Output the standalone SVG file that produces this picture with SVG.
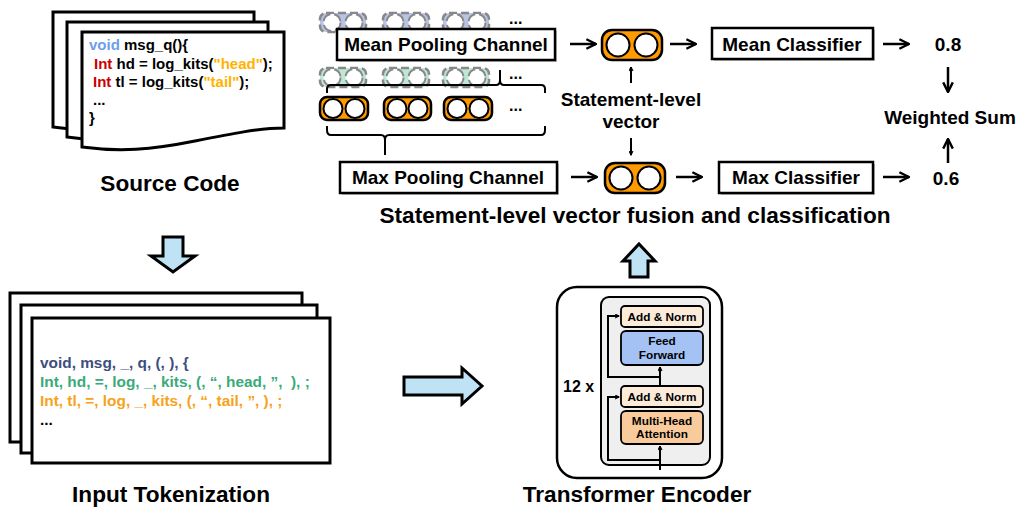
<svg xmlns="http://www.w3.org/2000/svg" width="1018" height="508" viewBox="0 0 1018 508">
<defs>
<style>
text{font-family:"Liberation Sans",Arial,sans-serif;font-weight:bold;fill:#000}
.cap{font-size:22.6px}
.code{font-size:15px}
.tok{font-size:15.4px;white-space:pre}
.lbl{font-size:19px}
.page{fill:#fff;stroke:#000;stroke-width:3}
.box{fill:#fff;stroke:#000;stroke-width:2.5}
.shadow{fill:#999;opacity:0.6}
.blk{fill:#BFE3F5;stroke:#000;stroke-width:3;stroke-linejoin:miter}
.ln{stroke:#000;stroke-width:2.5;fill:none}
.thin{stroke:#000;stroke-width:2;fill:none}
.vec{fill:#FF9A00;stroke:#000;stroke-width:2.5}
.cir{fill:#fff;stroke:#000;stroke-width:2}
.fv1{fill:#B9C3E6;stroke:#888;stroke-width:2.5;stroke-dasharray:8 4}
.fv2{fill:#BFE8D4;stroke:#888;stroke-width:2.5;stroke-dasharray:8 4}
.fc{fill:#fff;stroke:#888;stroke-width:2;stroke-dasharray:10 4}
.tb{stroke:#000;stroke-width:1.8}
.tt{font-size:11.8px}
</style>
<marker id="ah" viewBox="0 0 10 10" refX="9" refY="5" markerWidth="5" markerHeight="5" orient="auto" markerUnits="userSpaceOnUse">
<path d="M1,1 L9,5 L1,9" fill="none" stroke="#000" stroke-width="2.2"/>
</marker>
<marker id="ahs" viewBox="0 0 10 10" refX="9" refY="5" markerWidth="12" markerHeight="12" orient="auto" markerUnits="userSpaceOnUse">
<path d="M1,1 L9,5 L1,9" fill="none" stroke="#000" stroke-width="2"/>
</marker>
</defs>
<rect width="1018" height="508" fill="#fff"/>

<g id="source-code">
<path class="page" d="M53,12 H254 V110 C230,112 200,118 165,125 C120,134 90,132 53,127 Z"/>
<path class="page" d="M67,22 H268 V120 C244,122 214,128 179,135 C134,144 104,142 67,137 Z"/>
<path class="page" d="M82,32 H284 V128 C260,128 230,134 195,141 C150,150 120,152 82,147 Z"/>
<text class="code" x="89" y="50"><tspan fill="#6D9EEB">void</tspan> msg_q(){</text>
<text class="code" x="94" y="69"><tspan fill="#CC0000">Int</tspan> hd = log_kits(<tspan fill="#FFB300">"head"</tspan>);</text>
<text class="code" x="93" y="87"><tspan fill="#CC0000">Int</tspan> tl = log_kits(<tspan fill="#FFB300">"tail"</tspan>);</text>
<text class="code" x="93" y="105">...</text>
<text class="code" x="89" y="123">}</text>
<text class="cap" x="170" y="191" text-anchor="middle">Source Code</text>
</g>

<g id="input-tokenization">
<rect class="page" x="10" y="293" width="292" height="149"/>
<rect class="page" x="21" y="305" width="296" height="148"/>
<rect class="page" x="32" y="318" width="298" height="145"/>
<text class="tok" x="40" y="368" style="fill:#3D4E7E">void, msg, _, q, (, ), {</text>
<text class="tok" x="40" y="387" style="fill:#3BAA7A">Int, hd, =, log, _, kits, (, “, head, ”,  ), ;</text>
<text class="tok" x="40" y="406" style="fill:#F7A21B">Int, tl, =, log, _, kits, (, “, tail, ”, ), ;</text>
<text class="tok" x="40" y="425">...</text>
<text class="cap" x="171" y="502" text-anchor="middle">Input Tokenization</text>
</g>

<g id="block-arrows">
<path class="blk" d="M163,237 H183 V256 H195 L173,272 L151,256 H163 Z"/>
<path class="blk" d="M404,377 H462 V368 L482,386 L462,404 V395 H404 Z"/>
<path class="blk" d="M630,277 V261 H623 L639,244 L655,261 H648 V277 Z"/>
</g>

<g id="transformer-encoder">
<rect x="557" y="287" width="165" height="191" rx="20" fill="#fff" stroke="#000" stroke-width="2.5"/>
<rect x="601" y="297" width="109" height="168" rx="8" fill="#EFEFEF" stroke="#000" stroke-width="2"/>
<rect x="621" y="306" width="82" height="21" rx="4" fill="#FCEBD9" class="tb"/>
<text class="tt" x="662" y="320.5" text-anchor="middle">Add &amp; Norm</text>
<rect x="621" y="331" width="82" height="34" rx="5" fill="#A4C2F4" class="tb"/>
<text class="tt" x="662" y="345" text-anchor="middle">Feed</text>
<text class="tt" x="662" y="359" text-anchor="middle">Forward</text>
<rect x="621" y="386" width="82" height="21" rx="4" fill="#FCEBD9" class="tb"/>
<text class="tt" x="662" y="400.5" text-anchor="middle">Add &amp; Norm</text>
<rect x="621" y="411" width="82" height="33" rx="5" fill="#F9CB9C" class="tb"/>
<text class="tt" x="662" y="424.5" text-anchor="middle">Multi-Head</text>
<text class="tt" x="662" y="438" text-anchor="middle">Attention</text>
<text x="563" y="392" font-size="16">12 x</text>
<text class="cap" x="637" y="502" text-anchor="middle">Transformer Encoder</text>
</g>

<g id="top-vectors">
<g id="faded-row1">
<rect class="fv1" x="320" y="13" width="46" height="19" rx="6"/>
<circle class="fc" cx="332" cy="22.5" r="8.5"/><circle class="fc" cx="354" cy="22.5" r="8.5"/>
<rect class="fv1" x="383" y="13" width="46" height="19" rx="6"/>
<circle class="fc" cx="395" cy="22.5" r="8.5"/><circle class="fc" cx="417" cy="22.5" r="8.5"/>
<rect class="fv1" x="443" y="13" width="46" height="19" rx="6"/>
<circle class="fc" cx="455" cy="22.5" r="8.5"/><circle class="fc" cx="477" cy="22.5" r="8.5"/>
<text x="509" y="24" font-size="16">...</text>
</g>
<g id="faded-row2">
<rect class="fv2" x="320" y="68" width="46" height="19" rx="6"/>
<circle class="fc" cx="332" cy="77.5" r="8.5"/><circle class="fc" cx="354" cy="77.5" r="8.5"/>
<rect class="fv2" x="383" y="68" width="46" height="19" rx="6"/>
<circle class="fc" cx="395" cy="77.5" r="8.5"/><circle class="fc" cx="417" cy="77.5" r="8.5"/>
<rect class="fv2" x="443" y="68" width="46" height="19" rx="6"/>
<circle class="fc" cx="455" cy="77.5" r="8.5"/><circle class="fc" cx="477" cy="77.5" r="8.5"/>
<text x="509" y="79" font-size="16">...</text>
</g>
<g id="orange-row">
<rect class="vec" x="320" y="97" width="48" height="23" rx="7"/>
<circle class="cir" cx="333" cy="108.5" r="9.5"/><circle class="cir" cx="355" cy="108.5" r="9.5"/>
<rect class="vec" x="384" y="97" width="47" height="23" rx="7"/>
<circle class="cir" cx="397" cy="108.5" r="9.5"/><circle class="cir" cx="418" cy="108.5" r="9.5"/>
<rect class="vec" x="444" y="97" width="48" height="23" rx="7"/>
<circle class="cir" cx="457" cy="108.5" r="9.5"/><circle class="cir" cx="479" cy="108.5" r="9.5"/>
<text x="509" y="111" font-size="16">...</text>
</g>
<path class="thin" d="M327,93 V89 Q327,85 331,85 H496 Q500,85 500,80 V70 M500,80 Q500,85 504,85 H541 Q545,85 545,89 V93"/>
<path class="thin" d="M327,126 V130 Q327,135 331,135 H381 Q385,135 385,140 V155 M385,140 Q385,135 389,135 H541 Q545,135 545,130 V126"/>
</g>

<g id="mean-pooling-channel">
<rect class="shadow" x="339" y="31" width="218" height="31"/>
<rect class="box" x="337" y="29" width="218" height="31"/>
<text class="lbl" x="446" y="51" text-anchor="middle">Mean Pooling Channel</text>
</g>
<g id="max-pooling-channel">
<rect class="shadow" x="342" y="164" width="217" height="31"/>
<rect class="box" x="340" y="162" width="217" height="31"/>
<text class="lbl" x="448" y="184" text-anchor="middle">Max Pooling Channel</text>
</g>

<g id="mean-vector">
<rect class="vec" x="602" y="30" width="60" height="30" rx="10"/>
<circle class="cir" cx="618" cy="45" r="11.5"/><circle class="cir" cx="646" cy="45" r="11.5"/>
</g>
<g id="max-vector">
<rect class="vec" x="605" y="163" width="60" height="30" rx="10"/>
<circle class="cir" cx="621" cy="178" r="11.5"/><circle class="cir" cx="649" cy="178" r="11.5"/>
</g>

<g id="statement-level-vector">
<text class="lbl" x="631" y="106" text-anchor="middle">Statement-level</text>
<text class="lbl" x="631" y="128" text-anchor="middle">vector</text>
</g>

<g id="mean-classifier">
<rect class="shadow" x="714" y="30" width="161" height="31"/>
<rect class="box" x="712" y="28" width="161" height="31"/>
<text class="lbl" x="792" y="50.5" text-anchor="middle">Mean Classifier</text>
</g>
<g id="max-classifier">
<rect class="shadow" x="721" y="164" width="154" height="31"/>
<rect class="box" x="719" y="162" width="154" height="31"/>
<text class="lbl" x="796" y="184" text-anchor="middle">Max Classifier</text>
</g>

<g id="score-mean"><text class="lbl" x="948" y="51" text-anchor="middle">0.8</text></g>
<g id="score-max"><text class="lbl" x="946" y="185" text-anchor="middle">0.6</text></g>
<g id="weighted-sum"><text class="lbl" x="950" y="124" text-anchor="middle">Weighted Sum</text></g>

<text class="cap" x="635" y="223" text-anchor="middle">Statement-level vector fusion and classification</text>

<g id="connectors">
<line class="ln" x1="570" y1="44" x2="596" y2="44" marker-end="url(#ahs)"/>
<line class="ln" x1="670" y1="44" x2="696" y2="44" marker-end="url(#ahs)"/>
<line class="ln" x1="883" y1="44" x2="909" y2="44" marker-end="url(#ahs)"/>
<line class="ln" x1="571" y1="177" x2="597" y2="177" marker-end="url(#ahs)"/>
<line class="ln" x1="676" y1="177" x2="702" y2="177" marker-end="url(#ahs)"/>
<line class="ln" x1="883" y1="177" x2="909" y2="177" marker-end="url(#ahs)"/>
<line class="ln" x1="948" y1="67" x2="948" y2="92" marker-end="url(#ahs)"/>
<line class="ln" x1="948" y1="163" x2="948" y2="139" marker-end="url(#ahs)"/>
<line class="thin" x1="631" y1="83" x2="631" y2="67" marker-end="url(#ah)"/>
<line class="thin" x1="631" y1="138" x2="631" y2="155" marker-end="url(#ah)"/>
<line class="thin" x1="660" y1="470" x2="660" y2="446" marker-end="url(#ah)"/>
<line class="thin" x1="660" y1="386" x2="660" y2="367" marker-end="url(#ah)"/>
<path class="thin" d="M660,460 H608 V397 H619" marker-end="url(#ah)"/>
<path class="thin" d="M660,377 H608 V316 H619" marker-end="url(#ah)"/>
</g>
</svg>
